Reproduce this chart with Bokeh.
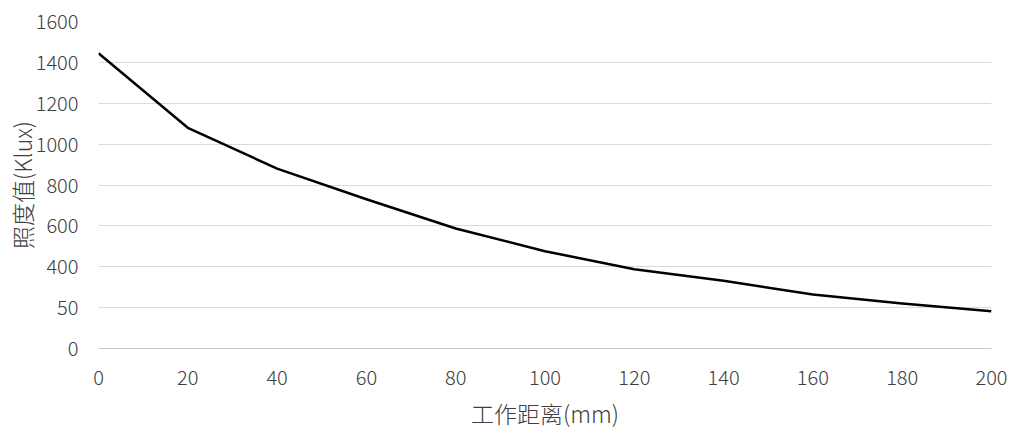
from bokeh.embed import file_html
from bokeh.models import FixedTicker, Range1d
from bokeh.plotting import figure
from bokeh.resources import INLINE

# working distance (mm) and illuminance (Klux)
distance = [0, 20, 40, 60, 80, 100, 120, 140, 160, 180, 200]
illuminance = [1445, 1080, 880, 730, 587, 476, 388, 331, 264, 220, 182]

x_ticks = [0, 20, 40, 60, 80, 100, 120, 140, 160, 180, 200]
y_ticks = [0, 200, 400, 600, 800, 1000, 1200, 1400, 1600]
y_tick_labels = {0: "0", 200: "50", 400: "400", 600: "600", 800: "800",
                 1000: "1000", 1200: "1200", 1400: "1400", 1600: "1600"}

FONT = "Noto Sans CJK SC Light, Noto Sans CJK SC"
TEXT = "#404040"

p = figure(width=1010, height=432, output_backend="svg", toolbar_location=None,
           x_range=Range1d(0, 200), y_range=Range1d(0, 1600),
           min_border_left=98, min_border_right=19,
           min_border_top=21, min_border_bottom=84)
p.outline_line_color = None

p.line(distance, illuminance, line_color="#000000", line_width=2.5,
       line_join="round")

p.xaxis.ticker = FixedTicker(ticks=x_ticks)
p.yaxis.ticker = FixedTicker(ticks=y_ticks)
p.yaxis.major_label_overrides = y_tick_labels

for ax in (p.xaxis, p.yaxis):
    ax.major_tick_line_color = None
    ax.minor_tick_line_color = None
    ax.major_label_text_font = FONT
    ax.major_label_text_font_size = "20px"
    ax.major_label_text_color = TEXT
    ax.axis_label_text_font = FONT
    ax.axis_label_text_font_size = "23px"
    ax.axis_label_text_font_style = "normal"
    ax.axis_label_text_color = TEXT

p.yaxis.axis_line_color = None
p.xaxis.axis_line_color = "#c8c8c8"
p.xaxis.major_label_standoff = 15
p.yaxis.major_label_standoff = 14
p.xaxis.axis_label = "工作距离(mm)"
p.yaxis.axis_label = "照度值(Klux)"
p.xaxis.axis_label_standoff = 8
p.yaxis.axis_label_standoff = -6

p.xgrid.grid_line_color = None
p.ygrid.grid_line_color = "#d9d9d9"
p.ygrid.grid_line_width = 1

open("out.html", "w").write(file_html(p, INLINE))
